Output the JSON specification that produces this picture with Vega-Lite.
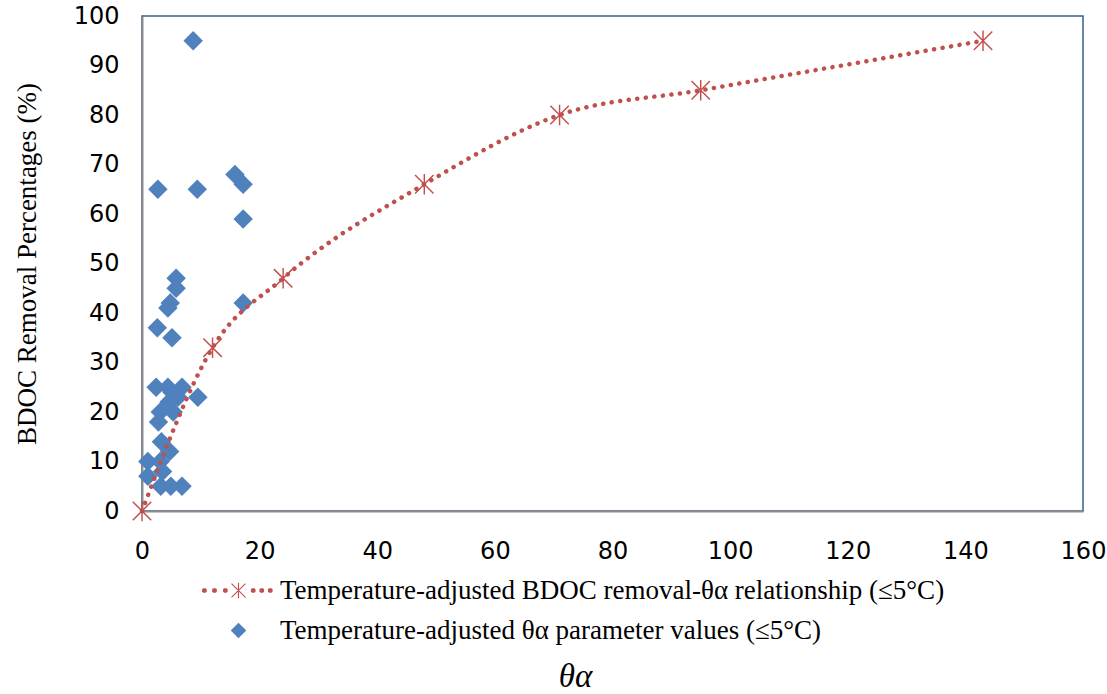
{
  "$schema": "https://vega.github.io/schema/vega-lite/v6.json",
  "width": 941,
  "height": 495,
  "autosize": "none",
  "padding": {"left": 142, "top": 16, "right": 24, "bottom": 183},
  "background": "white",
  "config": {
    "view": {"stroke": "#385D8A", "strokeWidth": 1.5},
    "axis": {
      "grid": false,
      "ticks": false,
      "domainColor": "#8C8C8C",
      "domainWidth": 2,
      "labelFont": "DejaVu Sans",
      "labelFontSize": 24,
      "labelColor": "#000000",
      "labelFlush": false,
      "labelOverlap": false,
      "titleFont": "Liberation Serif",
      "titleFontWeight": "normal",
      "titleColor": "#000000"
    },
    "legend": {
      "labelFont": "Liberation Serif",
      "labelFontSize": 27,
      "labelColor": "#000000",
      "labelLimit": 900
    }
  },
  "datasets": {
    "relationship": [
      {"theta_alpha": 0, "removal": 0, "series": "Temperature-adjusted BDOC removal-θα relationship (≤5°C)"},
      {"theta_alpha": 12, "removal": 33, "series": "Temperature-adjusted BDOC removal-θα relationship (≤5°C)"},
      {"theta_alpha": 24, "removal": 47, "series": "Temperature-adjusted BDOC removal-θα relationship (≤5°C)"},
      {"theta_alpha": 48, "removal": 66, "series": "Temperature-adjusted BDOC removal-θα relationship (≤5°C)"},
      {"theta_alpha": 71, "removal": 80, "series": "Temperature-adjusted BDOC removal-θα relationship (≤5°C)"},
      {"theta_alpha": 95, "removal": 85, "series": "Temperature-adjusted BDOC removal-θα relationship (≤5°C)"},
      {"theta_alpha": 143, "removal": 95, "series": "Temperature-adjusted BDOC removal-θα relationship (≤5°C)"}
    ],
    "parameters": [
      {"theta_alpha": 8.7, "removal": 95, "series": "Temperature-adjusted θα parameter values (≤5°C)"},
      {"theta_alpha": 2.7, "removal": 65, "series": "Temperature-adjusted θα parameter values (≤5°C)"},
      {"theta_alpha": 9.4, "removal": 65, "series": "Temperature-adjusted θα parameter values (≤5°C)"},
      {"theta_alpha": 15.8, "removal": 68, "series": "Temperature-adjusted θα parameter values (≤5°C)"},
      {"theta_alpha": 17.2, "removal": 66, "series": "Temperature-adjusted θα parameter values (≤5°C)"},
      {"theta_alpha": 17.2, "removal": 59, "series": "Temperature-adjusted θα parameter values (≤5°C)"},
      {"theta_alpha": 17.2, "removal": 42, "series": "Temperature-adjusted θα parameter values (≤5°C)"},
      {"theta_alpha": 5.8, "removal": 47, "series": "Temperature-adjusted θα parameter values (≤5°C)"},
      {"theta_alpha": 5.8, "removal": 45, "series": "Temperature-adjusted θα parameter values (≤5°C)"},
      {"theta_alpha": 4.8, "removal": 42, "series": "Temperature-adjusted θα parameter values (≤5°C)"},
      {"theta_alpha": 4.4, "removal": 41, "series": "Temperature-adjusted θα parameter values (≤5°C)"},
      {"theta_alpha": 2.6, "removal": 37, "series": "Temperature-adjusted θα parameter values (≤5°C)"},
      {"theta_alpha": 5.1, "removal": 35, "series": "Temperature-adjusted θα parameter values (≤5°C)"},
      {"theta_alpha": 2.4, "removal": 25, "series": "Temperature-adjusted θα parameter values (≤5°C)"},
      {"theta_alpha": 4.4, "removal": 25, "series": "Temperature-adjusted θα parameter values (≤5°C)"},
      {"theta_alpha": 6.8, "removal": 25, "series": "Temperature-adjusted θα parameter values (≤5°C)"},
      {"theta_alpha": 5.1, "removal": 24, "series": "Temperature-adjusted θα parameter values (≤5°C)"},
      {"theta_alpha": 6.1, "removal": 23, "series": "Temperature-adjusted θα parameter values (≤5°C)"},
      {"theta_alpha": 9.5, "removal": 23, "series": "Temperature-adjusted θα parameter values (≤5°C)"},
      {"theta_alpha": 4.6, "removal": 22, "series": "Temperature-adjusted θα parameter values (≤5°C)"},
      {"theta_alpha": 3.1, "removal": 20, "series": "Temperature-adjusted θα parameter values (≤5°C)"},
      {"theta_alpha": 5.3, "removal": 20, "series": "Temperature-adjusted θα parameter values (≤5°C)"},
      {"theta_alpha": 2.8, "removal": 18, "series": "Temperature-adjusted θα parameter values (≤5°C)"},
      {"theta_alpha": 3.3, "removal": 14, "series": "Temperature-adjusted θα parameter values (≤5°C)"},
      {"theta_alpha": 4.7, "removal": 12, "series": "Temperature-adjusted θα parameter values (≤5°C)"},
      {"theta_alpha": 1.0, "removal": 10, "series": "Temperature-adjusted θα parameter values (≤5°C)"},
      {"theta_alpha": 3.1, "removal": 10, "series": "Temperature-adjusted θα parameter values (≤5°C)"},
      {"theta_alpha": 3.5, "removal": 8, "series": "Temperature-adjusted θα parameter values (≤5°C)"},
      {"theta_alpha": 1.0, "removal": 7, "series": "Temperature-adjusted θα parameter values (≤5°C)"},
      {"theta_alpha": 3.2, "removal": 5, "series": "Temperature-adjusted θα parameter values (≤5°C)"},
      {"theta_alpha": 4.9, "removal": 5, "series": "Temperature-adjusted θα parameter values (≤5°C)"},
      {"theta_alpha": 6.8, "removal": 5, "series": "Temperature-adjusted θα parameter values (≤5°C)"}
    ]
  },
  "encoding": {
    "x": {
      "field": "theta_alpha",
      "type": "quantitative",
      "scale": {"domain": [0, 160], "nice": false, "zero": true},
      "axis": {
        "values": [0, 20, 40, 60, 80, 100, 120, 140, 160],
        "labelPadding": 28,
        "title": "θα",
        "titleFont": "Liberation Serif",
        "titleFontStyle": "italic",
        "titleFontSize": 33,
        "titleBaseline": "alphabetic",
        "titleAlign": "center",
        "titleAnchor": "start",
        "titleX": 433,
        "titleY": 175
      }
    },
    "y": {
      "field": "removal",
      "type": "quantitative",
      "scale": {"domain": [0, 100], "nice": false},
      "axis": {
        "values": [0, 10, 20, 30, 40, 50, 60, 70, 80, 90, 100],
        "labelPadding": 23,
        "title": "BDOC Removal Percentages (%)",
        "titleFontSize": 27,
        "titleX": -101
      }
    }
  },
  "layer": [
    {
      "data": {"name": "parameters"},
      "mark": {"type": "point", "filled": true, "opacity": 1, "size": 380, "strokeWidth": 0},
      "encoding": {
        "shape": {"field": "series", "type": "nominal", "legend": null,
          "scale": {
            "domain": ["Temperature-adjusted BDOC removal-θα relationship (≤5°C)", "Temperature-adjusted θα parameter values (≤5°C)"],
            "range": ["M-0.07,-1L0.07,-1L0.07,1L-0.07,1ZM-0.85,-0.95L0.95,0.85L0.85,0.95L-0.95,-0.85ZM0.95,-0.85L-0.85,0.95L-0.95,0.85L0.85,-0.95ZM-4.7,-0.15L-4.55,-0.3L-4.25,-0.3L-4.1,-0.15L-4.1,0.15L-4.25,0.3L-4.55,0.3L-4.7,0.15ZM-3.4,-0.15L-3.25,-0.3L-2.95,-0.3L-2.8,-0.15L-2.8,0.15L-2.95,0.3L-3.25,0.3L-3.4,0.15ZM-2.0,-0.15L-1.85,-0.3L-1.55,-0.3L-1.4,-0.15L-1.4,0.15L-1.55,0.3L-1.85,0.3L-2.0,0.15ZM1.6,-0.15L1.75,-0.3L2.05,-0.3L2.2,-0.15L2.2,0.15L2.05,0.3L1.75,0.3L1.6,0.15ZM2.7,-0.15L2.85,-0.3L3.15,-0.3L3.3,-0.15L3.3,0.15L3.15,0.3L2.85,0.3L2.7,0.15ZM3.8,-0.15L3.95,-0.3L4.25,-0.3L4.4,-0.15L4.4,0.15L4.25,0.3L3.95,0.3L3.8,0.15Z", "diamond"]
          }},
        "color": {"field": "series", "type": "nominal",
          "scale": {
            "domain": ["Temperature-adjusted BDOC removal-θα relationship (≤5°C)", "Temperature-adjusted θα parameter values (≤5°C)"],
            "range": ["#C0504D", "#4F81BD"]
          },
          "legend": {
            "title": null,
            "orient": "none",
            "legendX": 79,
            "legendY": 561,
            "rowPadding": 12,
            "symbolSize": 240,
            "symbolOffset": 4,
            "labelOffset": 28,
            "symbolStrokeWidth": 0
          }}
      }
    },
    {
      "data": {"name": "relationship"},
      "mark": {"type": "line", "interpolate": "monotone", "color": "#C0504D", "strokeWidth": 4.5, "strokeDash": [0.1, 8.5], "strokeCap": "round"}
    },
    {
      "data": {"name": "relationship"},
      "mark": {"type": "point", "filled": true, "opacity": 1, "size": 420, "strokeWidth": 0, "color": "#C0504D",
        "shape": "M-0.07,-1L0.07,-1L0.07,1L-0.07,1ZM-0.85,-0.95L0.95,0.85L0.85,0.95L-0.95,-0.85ZM0.95,-0.85L-0.85,0.95L-0.95,0.85L0.85,-0.95Z"},
      "encoding": {}
    }
  ]
}
